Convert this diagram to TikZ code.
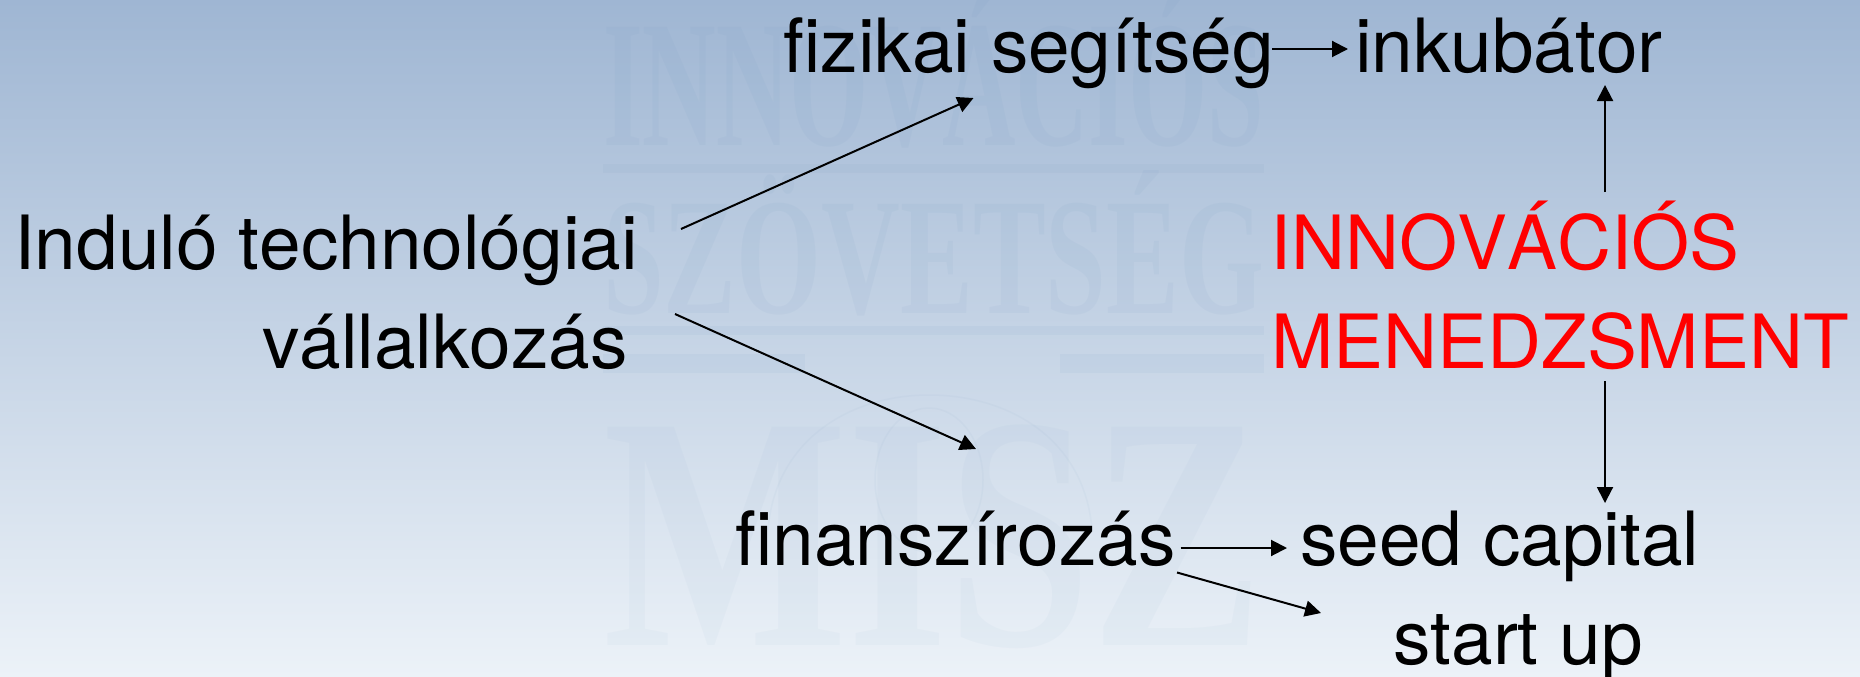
\documentclass[tikz,border=0pt]{standalone}
\usepackage{fontspec}
\setmainfont[Kerning=Off]{TeX Gyre Heros}
\newfontfamily\wmfont{Liberation Serif}
\usetikzlibrary{arrows.meta}
\definecolor{bgtop}{RGB}{159,182,211}
\definecolor{bgbot}{RGB}{236,242,248}
\definecolor{wmblue}{RGB}{110,150,190}
\newcommand{\wmtext}[3]{\resizebox{#1pt}{#2pt}{\raisebox{0pt}[66pt][0pt]{\wmfont\fontsize{100pt}{100pt}\selectfont\bfseries #3}}}
\tikzset{
  lbl/.style={anchor=base west,inner sep=0pt,font=\fontsize{74.8pt}{74.8pt}\selectfont,text=black},
  redlbl/.style={lbl,text=red},
  arr/.style={draw=black,line width=2pt,-{Triangle[length=16pt,width=16pt]}},
  wm/.style={anchor=base west,inner sep=0pt,text=wmblue,text opacity=0.07},
  wmfaint/.style={wm,text opacity=0.045},
  wmrule/.style={fill=wmblue,fill opacity=0.07,draw=none},
  wmring/.style={draw=wmblue,draw opacity=0.05,line width=1.5pt}
}
\begin{document}
\begin{tikzpicture}[x=1pt,y=-1pt]
\useasboundingbox (0,0) rectangle (1860,677);
\shade[top color=bgtop,bottom color=bgbot,draw=none] (0,0) rectangle (1860,677);
% watermark
\node[wm] (w1) at (603,145) {\wmtext{661}{119}{INNOVÁCIÓS}};
\fill[wmrule] (603,164) rectangle (1264,173);
\node[wm] (w2) at (603,313) {\wmtext{661}{110}{SZÖVETSÉG}};
\fill[wmrule] (603,326) rectangle (1264,335);
\fill[wmrule] (603,354) rectangle (805,373);
\fill[wmrule] (1060,354) rectangle (1264,373);
\node[wmfaint] (w3) at (603,645) {\wmtext{661}{220}{MISZ}};
\draw[wmring] (929,480) ellipse [x radius=54,y radius=72];
\draw[wmring] (768,530) .. controls (775,440) and (850,395) .. (929,395) .. controls (1010,395) and (1085,440) .. (1092,530);
% labels
\node[lbl] (ind) at (14,269) {Induló technológiai};
\node[lbl] (val) at (262,368) {vállalkozás};
\node[lbl] (fiz) at (783,72) {fizikai segítség};
\node[lbl] (ink) at (1355,72) {inkubátor};
\node[redlbl] (inn) at (1270,269) {INNOVÁCIÓS};
\node[redlbl] (men) at (1271,368) {MENEDZSMENT};
\node[lbl] (fin) at (735,565) {finanszírozás};
\node[lbl] (seed) at (1300,565) {seed capital};
\node[lbl] (st) at (1393,664) {start up};
% connectors
\draw[arr] ([shift={(667,-40)}]ind.base west) -- ([shift={(190.5,26)}]fiz.base west);
\draw[arr] ([shift={(413,-54)}]val.base west) -- ([shift={(241,-116)}]fin.base west);
\draw[arr] ([shift={(489,-23)}]fiz.base west) -- ([shift={(-7,-23)}]ink.base west);
\draw[arr] ([shift={(335,-77)}]inn.base west) -- ([shift={(250,13)}]ink.base west);
\draw[arr] ([shift={(334,13)}]men.base west) -- ([shift={(305,-62)}]seed.base west);
\draw[arr] ([shift={(445.5,-17)}]fin.base west) -- ([shift={(-13,-17)}]seed.base west);
\draw[arr] ([shift={(442,7.5)}]fin.base west) -- ([shift={(-72,-51)}]st.base west);
\end{tikzpicture}
\end{document}
